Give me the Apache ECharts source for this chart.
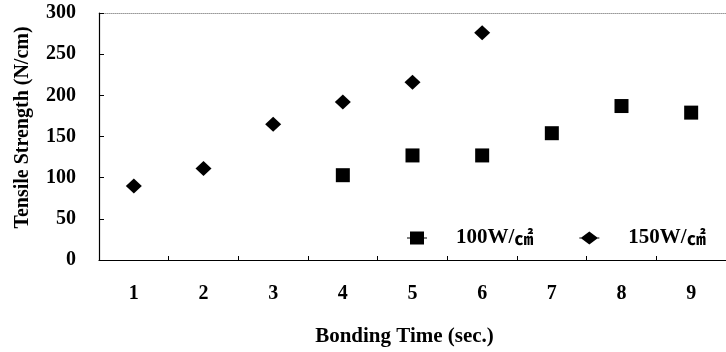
<!DOCTYPE html>
<html>
<head>
<meta charset="utf-8">
<script src="https://cdn.jsdelivr.net/npm/echarts@6/dist/echarts.min.js"></script>
<style>html,body{margin:0;padding:0;background:#fff;}#c{width:726px;height:352px;}</style>
</head>
<body>
<div id="c"></div>
<script>
const categories = ['1','2','3','4','5','6','7','8','9'];
const yTicks = [0, 50, 100, 150, 200, 250, 300];
const series100Name = '100W/㎠';
const series150Name = '150W/㎠';
const values100 = [null, null, null, 103, 127, 127, 154, 187, 179];
const values150 = [90, 111, 165, 192, 216, 276, null, null, null];

const FONT = "'Liberation Serif','Times New Roman',serif";
const squareIcon = 'path://M0,6 L3,6 L3,0 L17,0 L17,6 L20,6 L20,7 L17,7 L17,13 L3,13 L3,7 L0,7 Z';
const diamondIcon = 'path://M0,6 L2,6 L10,0 L18,6 L20,6 L20,7 L18,7 L10,13 L2,7 L0,7 Z';

const chart = echarts.init(document.getElementById('c'), null, {renderer: 'canvas'});
chart.setOption({
  animation: false,
  backgroundColor: '#fff',
  textStyle: {fontFamily: FONT},
  grid: {left: 99, top: 13, width: 635, height: 248, containLabel: false},
  legend: {
    left: 402, top: 220,
    itemWidth: 20, itemHeight: 13,
    itemGap: 46,
    data: [
      {name: series100Name, icon: squareIcon, itemStyle: {color: '#000'}},
      {name: series150Name, icon: diamondIcon, itemStyle: {color: '#000'}}
    ],
    formatter: function (n) { return '{t|' + n.replace('㎠', '') + '}{u|㎠}'; },
    textStyle: {
      padding: [0, 0, 0, 24],
      lineHeight: 26,
      rich: {
        t: {fontFamily: FONT, fontWeight: 'bold', fontSize: 21, color: '#000', lineHeight: 26},
        u: {fontFamily: "'Noto Sans CJK JP'", fontWeight: 'bold', fontSize: 19, color: '#000', lineHeight: 26}
      }
    }
  },
  xAxis: [{
    type: 'category',
    data: categories,
    boundaryGap: true,
    position: 'bottom',
    name: 'Bonding Time (sec.)',
    nameLocation: 'middle',
    nameGap: 66,
    nameTextStyle: {fontFamily: FONT, fontWeight: 'bold', fontSize: 21, color: '#000', padding: [0, 16, 0, 0]},
    axisLine: {lineStyle: {color: '#000', width: 1.2}},
    axisTick: {show: true, inside: true, length: 4, alignWithLabel: false, lineStyle: {color: '#000'}},
    axisLabel: {margin: 24, fontFamily: FONT, fontWeight: 'bold', fontSize: 20, color: '#000'},
    splitLine: {show: false}
  }, {
    type: 'category',
    data: categories,
    position: 'top',
    axisLine: {lineStyle: {color: '#9a9a9a', width: 1, type: 'dotted'}},
    axisTick: {show: false},
    axisLabel: {show: false},
    splitLine: {show: false}
  }],
  yAxis: {
    type: 'value',
    min: yTicks[0], max: yTicks[yTicks.length - 1], interval: 50,
    name: 'Tensile Strength (N/cm)',
    nameLocation: 'middle',
    nameRotate: 90,
    nameGap: 66,
    nameTextStyle: {fontFamily: FONT, fontWeight: 'bold', fontSize: 20, color: '#000', padding: [0, 0, 0, 18]},
    axisLine: {show: true, lineStyle: {color: '#000', width: 1.2}},
    axisTick: {show: true, inside: true, length: 5, lineStyle: {color: '#000'}},
    axisLabel: {margin: 23, fontFamily: FONT, fontWeight: 'bold', fontSize: 20, color: '#000'},
    splitLine: {show: false}
  },
  series: [{
    name: series100Name,
    type: 'scatter',
    symbol: 'rect',
    symbolSize: 14,
    itemStyle: {color: '#000', opacity: 1},
    data: values100
  }, {
    name: series150Name,
    type: 'scatter',
    symbol: 'diamond',
    symbolSize: [16, 15],
    itemStyle: {color: '#000', opacity: 1},
    data: values150
  }]
});
</script>
</body>
</html>
